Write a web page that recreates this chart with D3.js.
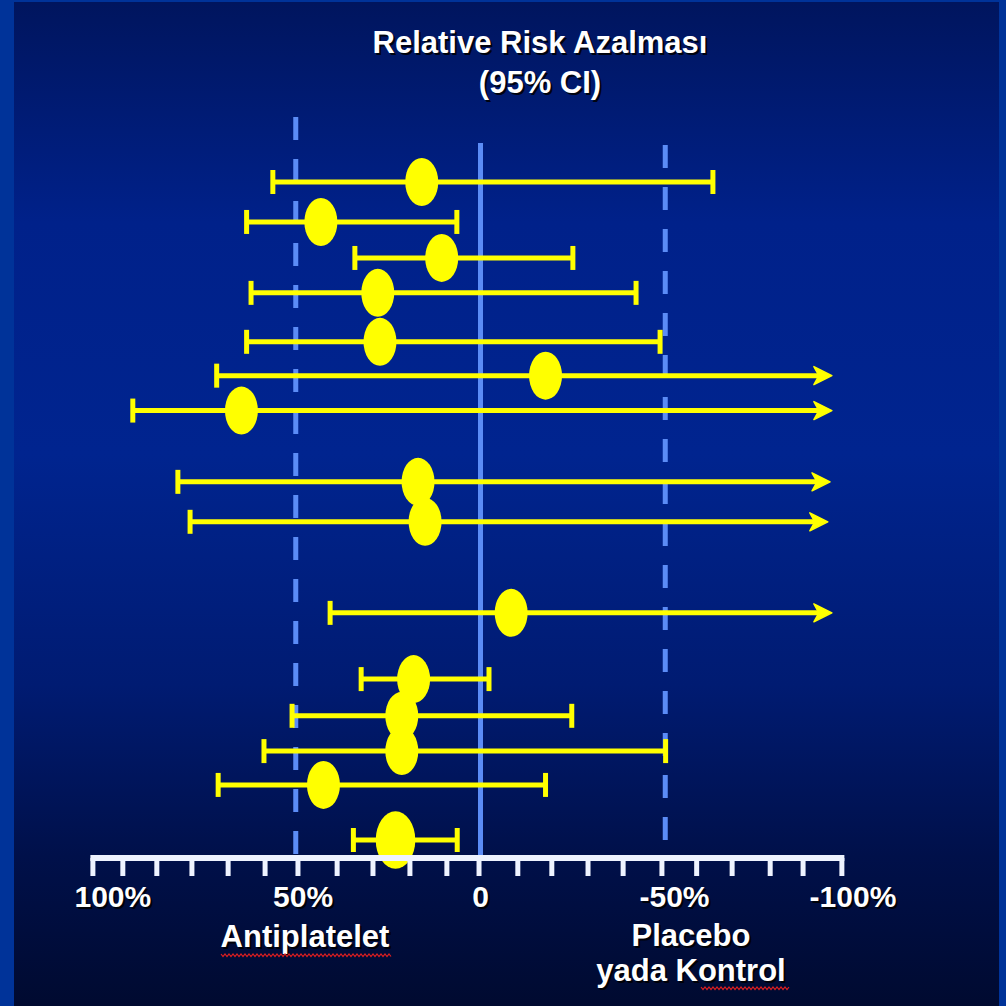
<!DOCTYPE html>
<html>
<head>
<meta charset="utf-8">
<script src="https://cdn.jsdelivr.net/npm/d3@7/dist/d3.min.js"></script>
<style>
  html, body { margin: 0; padding: 0; background: #003399; }
  svg { display: block; }
  text { font-family: "Liberation Sans", Arial, sans-serif; font-weight: bold; }
</style>
</head>
<body>
<svg id="chart" width="1006" height="1006"></svg>
<script>
// ---------- data ----------
const studies   = ["1","2","3","4","5","6","7","8","9","10","11","12","13","14","15"];
const rowPos    = [0, 1.11, 2.11, 3.08, 4.44, 5.38, 6.35, 8.33, 9.44, 11.97, 13.81, 14.83, 15.81, 16.75, 18.28];
const pointRRR  = [15.9, 43.2, 10.5, 27.8, 27.2, -17.6, 64.7, 16.9, 15.0, -8.3, 18.1, 21.3, 21.3, 42.5, 23.0];
const ciLower   = [56.2, 63.3, 34.0, 62.1, 63.3, 71.4, 94.1, 81.9, 78.6, 40.7, 32.3, 51.0, 58.6, 71.0, 34.4];
const ciUpper   = [-62.9, 6.4, -25.0, -42.1, -48.6, -95.1, -95.1, -94.6, -94.0, -95.1, -2.3, -24.7, -50.1, -17.6, 6.3];
const ciOpen    = [false, false, false, false, false, true, true, true, true, true, false, false, false, false, false];
const weights   = [1, 1, 1, 1, 1, 1, 1, 1, 1, 1, 1, 1, 1, 1, 1.2];
const tickValues  = [104.9, 96.8, 87.6, 78.1, 68.3, 58.3, 49.4, 38.8, 29.1, 19.1, 9.1, 0.4,
                     -10.1, -19.3, -29.1, -38.6, -49.1, -58.5, -68.1, -78.4, -87.3, -97.8];
const tickLabels  = ["100%", "50%", "0", "-50%", "-100%"];
const tickLabelAt = [99.5, 48, 0, -52.5, -100.8];
const refLines    = [50, -50];
const titleLines  = ["Relative Risk Azalması", "(95% CI)"];
const leftLabel   = ["Antiplatelet"];
const rightLabel  = ["Placebo", "yada Kontrol"];

// ---------- drawing ----------
const W = 1006, H = 1006;
const svg = d3.select("#chart");
const defs = svg.append("defs");
const grad = defs.append("linearGradient").attr("id", "bg").attr("x1", 0).attr("y1", 0).attr("x2", 0).attr("y2", 1);
[[0, "#00155e"], [0.22, "#00218a"], [0.45, "#00248f"], [0.68, "#001b72"], [0.85, "#00104a"], [1, "#000a30"]]
  .forEach(([o, c]) => grad.append("stop").attr("offset", o).attr("stop-color", c));

svg.append("rect").attr("width", W).attr("height", H).attr("fill", "#003399");
svg.append("rect").attr("x", 14).attr("y", 2).attr("width", 985).attr("height", H - 2).attr("fill", "url(#bg)");

const x = d3.scaleLinear().domain([100, -100]).range([111, 850]);
const y = d3.scaleLinear().domain([0, 18.28]).range([182, 840]);

const axisY = 858;
const blue = "#5b8cf6";
const yellow = "#ffff00";

// reference lines
svg.selectAll("line.ref").data(refLines).enter().append("line")
  .attr("x1", d => x(d)).attr("x2", d => x(d))
  .attr("y1", d => d > 0 ? 117 : 145).attr("y2", axisY - 3)
  .attr("stroke", blue).attr("stroke-width", 5).attr("stroke-dasharray", "23 19");
svg.append("line").attr("x1", x(0)).attr("x2", x(0)).attr("y1", 143).attr("y2", axisY)
  .attr("stroke", blue).attr("stroke-width", 5);

const rows = studies.map((s, i) => ({
  s, pos: rowPos[i], p: pointRRR[i], lo: ciLower[i], hi: ciUpper[i], open: ciOpen[i], w: weights[i]
}));

const g = svg.append("g");
// CI lines
g.selectAll("line.ci").data(rows).enter().append("line")
  .attr("x1", d => x(d.lo))
  .attr("x2", d => d.open ? x(d.hi) - 10 : x(d.hi))
  .attr("y1", d => y(d.pos)).attr("y2", d => y(d.pos))
  .attr("stroke", yellow).attr("stroke-width", 5);
// left caps
g.selectAll("line.capL").data(rows).enter().append("line")
  .attr("x1", d => x(d.lo)).attr("x2", d => x(d.lo))
  .attr("y1", d => y(d.pos) - 12).attr("y2", d => y(d.pos) + 12)
  .attr("stroke", yellow).attr("stroke-width", 5);
// right caps
g.selectAll("line.capR").data(rows.filter(d => !d.open)).enter().append("line")
  .attr("x1", d => x(d.hi)).attr("x2", d => x(d.hi))
  .attr("y1", d => y(d.pos) - 12).attr("y2", d => y(d.pos) + 12)
  .attr("stroke", yellow).attr("stroke-width", 5);
// arrowheads
g.selectAll("path.arrow").data(rows.filter(d => d.open)).enter().append("path")
  .attr("d", d => {
    const tx = x(d.hi), ty = y(d.pos);
    return `M${tx},${ty} L${tx - 18},${ty - 9} L${tx - 13},${ty} L${tx - 18},${ty + 9} Z`;
  })
  .attr("fill", yellow).attr("stroke", yellow).attr("stroke-width", 1.5).attr("stroke-linejoin", "round");
// points
g.selectAll("ellipse").data(rows).enter().append("ellipse")
  .attr("cx", d => x(d.p)).attr("cy", d => y(d.pos))
  .attr("rx", d => 16.5 * d.w).attr("ry", d => 24 * d.w)
  .attr("fill", yellow);

// axis
const axisColor = "#eef3ff";
svg.append("line")
  .attr("x1", x(tickValues[0]) - 2.5).attr("x2", x(tickValues[tickValues.length - 1]) + 2.5)
  .attr("y1", axisY).attr("y2", axisY)
  .attr("stroke", axisColor).attr("stroke-width", 6);
svg.selectAll("line.tick").data(tickValues).enter().append("line")
  .attr("x1", d => x(d)).attr("x2", d => x(d))
  .attr("y1", axisY).attr("y2", axisY + 18)
  .attr("stroke", axisColor).attr("stroke-width", 5);

function shadowText(sel, tx, ty, txt, size) {
  sel.append("text").attr("x", tx + 2).attr("y", ty + 2).attr("text-anchor", "middle")
    .attr("font-size", size).attr("fill", "#000").attr("opacity", 0.85).text(txt);
  sel.append("text").attr("x", tx).attr("y", ty).attr("text-anchor", "middle")
    .attr("font-size", size).attr("fill", "#ffffff").text(txt);
}

const labels = svg.append("g");
tickLabels.forEach((t, i) => shadowText(labels, x(tickLabelAt[i]), 907, t, 30));

// titles
titleLines.forEach((t, i) => shadowText(labels, 540, 53 + i * 40, t, 31));
// side labels
leftLabel.forEach((t, i) => shadowText(labels, 305, 947 + i * 35, t, 31));
rightLabel.forEach((t, i) => shadowText(labels, 691, 946 + i * 35, t, 31));

// spell-check squiggles
function squiggle(x0, x1, yy) {
  let d = `M${x0},${yy}`;
  for (let xx = x0, k = 0; xx < x1; xx += 2, k++) d += ` L${xx + 2},${yy + (k % 2 ? 0 : 2.5)}`;
  svg.append("path").attr("d", d).attr("fill", "none").attr("stroke", "#e02020").attr("stroke-width", 1.2);
}
squiggle(221, 390, 954);
squiggle(701, 789, 987);
</script>
</body>
</html>
